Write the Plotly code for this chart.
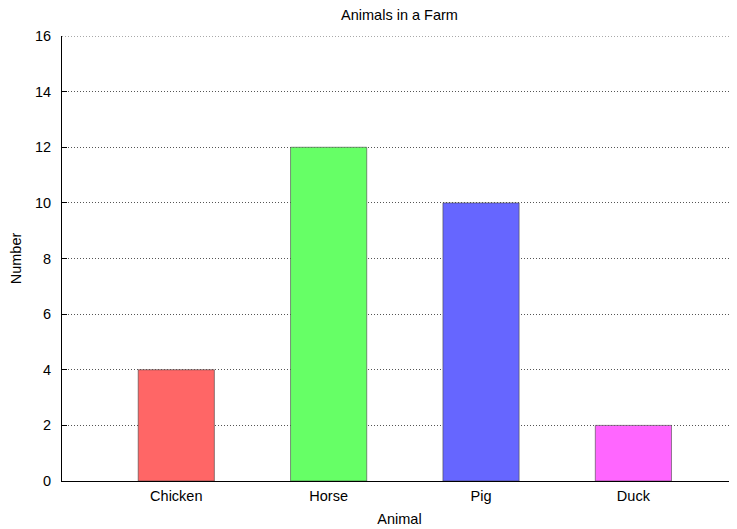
import plotly.graph_objects as go

animals = ["Chicken", "Horse", "Pig", "Duck"]
counts = [4, 12, 10, 2]
bar_colors = ["#ff6666", "#66ff66", "#6666ff", "#ff66ff"]
y_ticks = [0, 2, 4, 6, 8, 10, 12, 14, 16]

# The page body has an 8px default margin, so the figure is sized to fit the
# 737x529 window after that offset.
page_offset = 8
fig_w = 737 - page_offset
fig_h = 529 - page_offset

fig = go.Figure(
    go.Bar(
        x=list(range(len(animals))),
        y=counts,
        width=0.5,
        marker=dict(color=bar_colors, line=dict(color="#444444", width=0.6)),
    )
)

# top gridline (at the upper range edge, which plotly skips)
fig.add_shape(
    type="line", xref="paper", yref="y",
    x0=0, x1=1, y0=y_ticks[-1], y1=y_ticks[-1],
    line=dict(color="#555555", width=1, dash="1px,2px"),
    layer="below",
)

font_family = "Liberation Sans, Arial, sans-serif"
fs = 14.5

fig.update_layout(
    width=fig_w,
    height=fig_h,
    margin=dict(l=62 - page_offset, r=0, t=36 - page_offset, b=48, autoexpand=False),
    paper_bgcolor="white",
    plot_bgcolor="white",
    showlegend=False,
    font=dict(family=font_family, size=fs, color="black"),
    title=dict(
        text="Animals in a Farm",
        x=0.5,
        xref="paper",
        xanchor="center",
        y=1 - (15 - page_offset) / fig_h,
        yanchor="middle",
        font=dict(size=fs, color="black"),
    ),
    xaxis=dict(
        range=[-0.75, 3.68],
        tickmode="array",
        tickvals=list(range(len(animals))),
        ticktext=animals,
        showgrid=False,
        zeroline=False,
        showline=True,
        linecolor="black",
        linewidth=1,
        ticks="",
        tickfont=dict(size=fs),
        ticklabelstandoff=2,
        automargin=False,
        title=dict(text="Animal", font=dict(size=fs), standoff=10),
    ),
    yaxis=dict(
        range=[0, 16],
        tickmode="array",
        tickvals=y_ticks,
        showgrid=True,
        gridcolor="#555555",
        griddash="1px,2px",
        gridwidth=1,
        zeroline=False,
        showline=True,
        linecolor="black",
        linewidth=1,
        ticks="inside",
        ticklen=5,
        tickcolor="black",
        tickfont=dict(size=fs),
        ticklabelstandoff=7,
        automargin=False,
        title=dict(text="Number", font=dict(size=fs), standoff=9),
    ),
)

fig.write_html("out.html")
